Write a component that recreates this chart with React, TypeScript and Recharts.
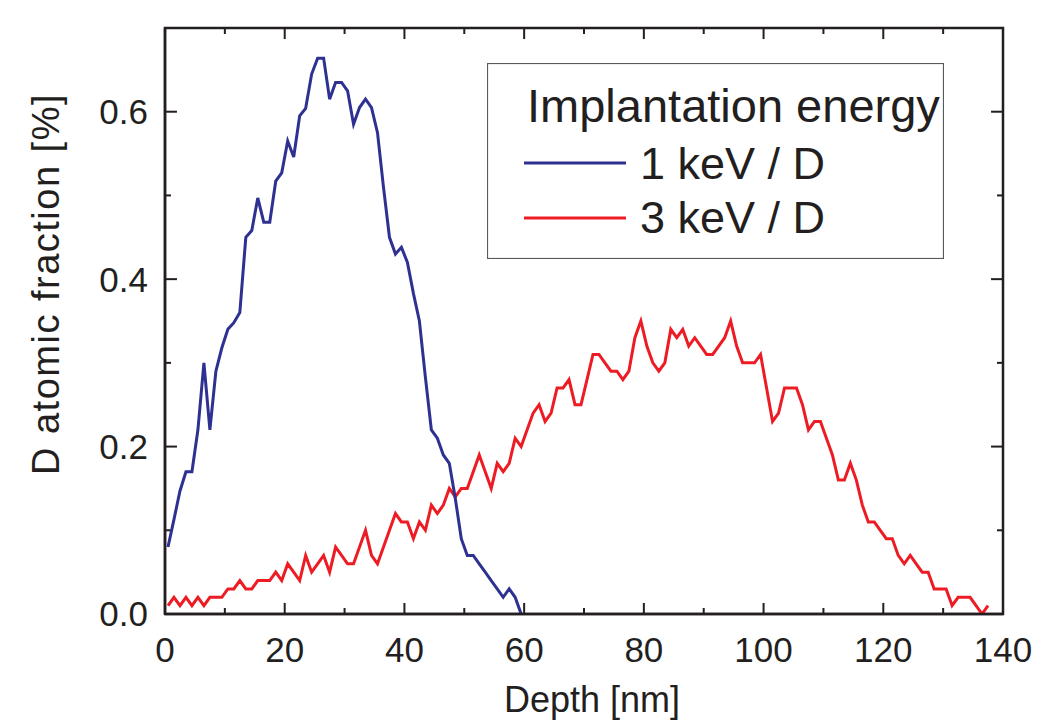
import React from 'react';
import { LineChart, Line, XAxis, YAxis, Legend, Label, ReferenceLine, ReferenceArea } from 'recharts';

const FONT = '"Liberation Sans", Arial, Helvetica, sans-serif';
const INK = '#231f20';

// depth sampling points [nm], shared by both profiles
const depth = [
  0.5, 1.5, 2.5, 3.5, 4.5, 5.5, 6.5, 7.5, 8.5, 9.5,
  10.5, 11.5, 12.5, 13.5, 14.5, 15.5, 16.5, 17.5, 18.5, 19.5,
  20.5, 21.5, 22.5, 23.5, 24.5, 25.5, 26.5, 27.5, 28.5, 29.5,
  30.5, 31.5, 32.5, 33.5, 34.5, 35.5, 36.5, 37.5, 38.5, 39.5,
  40.5, 41.5, 42.5, 43.5, 44.5, 45.5, 46.5, 47.5, 48.5, 49.5,
  50.5, 51.5, 52.5, 53.5, 54.5, 55.5, 56.5, 57.5, 58.5, 59.5,
  60.5, 61.5, 62.5, 63.5, 64.5, 65.5, 66.5, 67.5, 68.5, 69.5,
  70.5, 71.5, 72.5, 73.5, 74.5, 75.5, 76.5, 77.5, 78.5, 79.5,
  80.5, 81.5, 82.5, 83.5, 84.5, 85.5, 86.5, 87.5, 88.5, 89.5,
  90.5, 91.5, 92.5, 93.5, 94.5, 95.5, 96.5, 97.5, 98.5, 99.5,
  100.5, 101.5, 102.5, 103.5, 104.5, 105.5, 106.5, 107.5, 108.5, 109.5,
  110.5, 111.5, 112.5, 113.5, 114.5, 115.5, 116.5, 117.5, 118.5, 119.5,
  120.5, 121.5, 122.5, 123.5, 124.5, 125.5, 126.5, 127.5, 128.5, 129.5,
  130.5, 131.5, 132.5, 133.5, 134.5, 135.5, 136.5, 137.5,
];

// D atomic fraction [%], 1 keV / D (first 60 depths)
const fraction1keV = [
  0.08, 0.113, 0.147, 0.17, 0.17, 0.22, 0.3, 0.22, 0.29, 0.318,
  0.34, 0.348, 0.36, 0.45, 0.458, 0.497, 0.468, 0.468, 0.517, 0.527,
  0.565, 0.546, 0.595, 0.604, 0.645, 0.664, 0.664, 0.615, 0.635, 0.635,
  0.625, 0.585, 0.605, 0.615, 0.605, 0.575, 0.51, 0.45, 0.43, 0.438,
  0.42, 0.383, 0.35, 0.283, 0.22, 0.21, 0.19, 0.18, 0.138, 0.09,
  0.07, 0.07, 0.06, 0.05, 0.04, 0.03, 0.02, 0.03, 0.02, 0.0,
];

// D atomic fraction [%], 3 keV / D
const fraction3keV = [
  0.01, 0.02, 0.01, 0.02, 0.01, 0.02, 0.01, 0.02, 0.02, 0.02,
  0.03, 0.03, 0.04, 0.03, 0.03, 0.04, 0.04, 0.04, 0.05, 0.04,
  0.06, 0.05, 0.04, 0.07, 0.05, 0.06, 0.07, 0.05, 0.08, 0.07,
  0.06, 0.06, 0.08, 0.1, 0.07, 0.06, 0.08, 0.1, 0.12, 0.11,
  0.11, 0.09, 0.11, 0.1, 0.13, 0.12, 0.13, 0.15, 0.14, 0.15,
  0.15, 0.17, 0.19, 0.17, 0.15, 0.18, 0.17, 0.18, 0.21, 0.2,
  0.22, 0.24, 0.25, 0.23, 0.24, 0.27, 0.27, 0.28, 0.25, 0.25,
  0.28, 0.31, 0.31, 0.3, 0.29, 0.29, 0.28, 0.29, 0.33, 0.35,
  0.32, 0.3, 0.29, 0.3, 0.34, 0.33, 0.34, 0.32, 0.33, 0.32,
  0.31, 0.31, 0.32, 0.33, 0.35, 0.32, 0.3, 0.3, 0.3, 0.31,
  0.27, 0.23, 0.24, 0.27, 0.27, 0.27, 0.25, 0.22, 0.23, 0.23,
  0.21, 0.19, 0.16, 0.16, 0.18, 0.16, 0.13, 0.11, 0.11, 0.1,
  0.09, 0.09, 0.07, 0.06, 0.07, 0.06, 0.05, 0.05, 0.03, 0.03,
  0.03, 0.01, 0.02, 0.02, 0.02, 0.01, 0.0, 0.01,
];

const X_MAX = 140;
const Y_MAX = 0.7;
const xTicks = [0, 20, 40, 60, 80, 100, 120, 140];
const xMinorTicks = [10, 30, 50, 70, 90, 110, 130];
const yTicks = [0, 0.2, 0.4, 0.6];
const yMinorTicks = [0.1, 0.3, 0.5];

const legendTitle = 'Implantation energy';
const seriesNames = ['1 keV / D', '3 keV / D'];
const seriesColors = ['#2e3192', '#ed1c24'];

const data1keV = fraction1keV.map((y, i) => ({ x: depth[i], y }));
const data3keV = fraction3keV.map((y, i) => ({ x: depth[i], y }));

// inward tick lengths, in axis units (~11px major, ~6px minor)
const X_TICK_MAJOR = 0.0132;
const X_TICK_MINOR = 0.0072;
const Y_TICK_MAJOR = 2.0;
const Y_TICK_MINOR = 1.0;

const EnergyLegend = () => (
  <svg width={457} height={196} style={{ display: 'block' }}>
    <rect x={0.5} y={0.5} width={456} height={195} fill="#fff" stroke="#58595b" strokeWidth={1.2} />
    <text x={40} y={59} fontSize={47} fill={INK} fontFamily={FONT}>
      {legendTitle}
    </text>
    {seriesNames.map((name, i) => (
      <g key={name}>
        <line x1={37} x2={139} y1={100 + i * 55} y2={100 + i * 55} stroke={seriesColors[i]} strokeWidth={3} />
        <text x={153} y={116 + i * 54} fontSize={45} fill={INK} fontFamily={FONT}>
          {name}
        </text>
      </g>
    ))}
  </svg>
);

const tickFont = { fill: INK, fontSize: 35, fontFamily: FONT };
const frame = { stroke: INK, strokeWidth: 2.5 };

// builds the inward tick segments for all four sides
const tickSegments = () => {
  const segs: { x: number; y: number }[][] = [];
  xTicks.forEach((t) => {
    segs.push([{ x: t, y: 0 }, { x: t, y: X_TICK_MAJOR }]);
    segs.push([{ x: t, y: Y_MAX }, { x: t, y: Y_MAX - X_TICK_MAJOR }]);
  });
  xMinorTicks.forEach((t) => {
    segs.push([{ x: t, y: 0 }, { x: t, y: X_TICK_MINOR }]);
    segs.push([{ x: t, y: Y_MAX }, { x: t, y: Y_MAX - X_TICK_MINOR }]);
  });
  yTicks.forEach((t) => {
    segs.push([{ x: 0, y: t }, { x: Y_TICK_MAJOR, y: t }]);
    segs.push([{ x: X_MAX, y: t }, { x: X_MAX - Y_TICK_MAJOR, y: t }]);
  });
  yMinorTicks.forEach((t) => {
    segs.push([{ x: 0, y: t }, { x: Y_TICK_MINOR, y: t }]);
    segs.push([{ x: X_MAX, y: t }, { x: X_MAX - Y_TICK_MINOR, y: t }]);
  });
  return segs;
};

export default function App() {
  return (
    <div>
      <style>{'body{margin:0}'}</style>
      <LineChart width={1037} height={727} margin={{ top: 28, right: 34, bottom: 13, left: 65 }}>
        <XAxis
          xAxisId="x"
          type="number"
          dataKey="x"
          domain={[0, X_MAX]}
          ticks={xTicks}
          interval={0}
          allowDataOverflow
          height={100}
          tickLine={false}
          tickSize={0}
          tickMargin={23}
          axisLine={frame}
          tick={tickFont}
        >
          <Label
            content={() => (
              <text x={592} y={712} textAnchor="middle" fontSize={36} fill={INK} fontFamily={FONT}>
                Depth [nm]
              </text>
            )}
          />
        </XAxis>
        <YAxis
          yAxisId="y"
          type="number"
          domain={[0, Y_MAX]}
          ticks={yTicks}
          interval={0}
          allowDataOverflow
          width={100}
          tickLine={false}
          tickSize={0}
          tickMargin={17}
          axisLine={frame}
          tick={tickFont}
          tickFormatter={(v: number) => v.toFixed(1)}
        >
          <Label
            content={() => (
              <text
                x={46}
                y={284}
                transform="rotate(-90 46 284)"
                textAnchor="middle"
                dominantBaseline="central"
                fontSize={38}
                letterSpacing={1.5}
                fill={INK}
                fontFamily={FONT}
              >
                D atomic fraction [%]
              </text>
            )}
          />
        </YAxis>

        {/* plot frame */}
        <ReferenceArea
          xAxisId="x"
          yAxisId="y"
          x1={0}
          x2={X_MAX}
          y1={0}
          y2={Y_MAX}
          fill="none"
          fillOpacity={0}
          stroke={INK}
          strokeWidth={2.5}
          ifOverflow="visible"
        />
        {tickSegments().map((seg, i) => (
          <ReferenceLine
            key={`tick-${i}`}
            xAxisId="x"
            yAxisId="y"
            segment={seg}
            stroke={INK}
            strokeWidth={2}
            ifOverflow="visible"
          />
        ))}

        <Line
          xAxisId="x"
          yAxisId="y"
          data={data3keV}
          dataKey="y"
          name={seriesNames[1]}
          stroke={seriesColors[1]}
          strokeWidth={3}
          dot={false}
          activeDot={false}
          isAnimationActive={false}
        />
        <Line
          xAxisId="x"
          yAxisId="y"
          data={data1keV}
          dataKey="y"
          name={seriesNames[0]}
          stroke={seriesColors[0]}
          strokeWidth={3}
          dot={false}
          activeDot={false}
          isAnimationActive={false}
        />
        <Legend
          layout="horizontal"
          verticalAlign="middle"
          align="center"
          content={() => <EnergyLegend />}
          wrapperStyle={{ position: 'absolute', left: 487, top: 63, width: 457, height: 196 }}
        />
      </LineChart>
    </div>
  );
}
